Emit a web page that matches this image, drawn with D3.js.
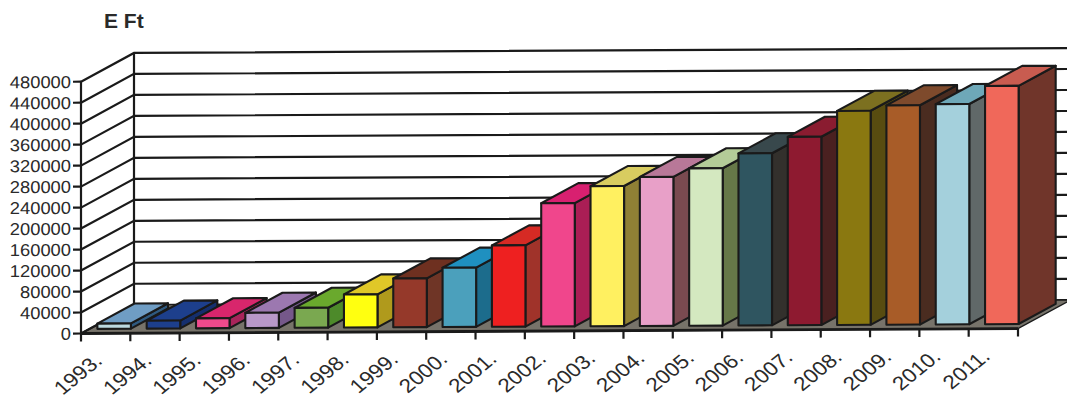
<!DOCTYPE html>
<html>
<head>
<meta charset="utf-8">
<title>E Ft</title>
<script src="https://cdnjs.cloudflare.com/ajax/libs/d3/7.8.5/d3.min.js"></script>
<style>
  html, body { margin: 0; padding: 0; background: #fff; overflow: hidden; }
  svg { display: block; }
  text { font-family: "Liberation Sans", Arial, sans-serif; fill: #2a2a2a; }
</style>
</head>
<body>
<svg id="chart" width="1067" height="400"></svg>
<script>
const years = ["1993.","1994.","1995.","1996.","1997.","1998.","1999.","2000.","2001.","2002.",
               "2003.","2004.","2005.","2006.","2007.","2008.","2009.","2010.","2011."];
const values = [10000,15000,19000,29000,38000,63000,93000,113000,155000,235000,
                267000,284000,300000,328000,359000,408000,418000,420000,454000];
const yTicks = d3.range(0, 480001, 40000);
const frontColors = ["#bcd9df","#1d3f8c","#ef4a8c","#b898c8","#7aa850","#ffff10","#95392a","#4ba0bc","#ee2020","#f0468c",
                     "#fff060","#e8a0c8","#d4e8c0","#2f5560","#8e1a30","#8a7810","#a85c28","#a4d0dc","#f0685a"];
const sideColors  = ["#2f5a80","#152f6e","#a8245a","#75588a","#4d8a2a","#b09a1c","#6f3526","#1c6c8c","#a0332a","#aa1e55",
                     "#8f8035","#7a4a50","#667848","#33302c","#4a2020","#584c10","#4a2c20","#606868","#70352a"];
const topColors   = ["#6f9dc4","#1d3f8c","#d8266c","#9c78b0","#6aa92d","#e0c828","#6e3020","#1f90c0","#d62a24","#d82070",
                     "#d8cc60","#b87898","#b4cc98","#38484c","#8a1c30","#7c7020","#7e4a2c","#6ea8b8","#c85c50"];

const originX = 81, originY = 333.5;
const depthX = 53, depthY = -28.5;
const stroke = "#1a1a1a";

const x = d3.scaleBand().domain(years).range([originX, 1018]).paddingInner(0).paddingOuter(0);
const y = d3.scaleLinear().domain([0, 480000]).range([originY, 81.7]);

const svg = d3.select("#chart");

svg.append("text").attr("x", 104).attr("y", 28)
  .attr("font-size", 21).attr("font-weight", "bold").text("E Ft");

// The plot shears very slightly upward to the right; verticals stay vertical.
const plot = svg.append("g")
  .attr("transform", `translate(${originX},${originY}) skewY(-0.3) translate(${-originX},${-originY})`);

// Project a point given by front-plane x, a value and a depth fraction (0 front .. 1 back).
const project = (px, v, z) => [px + depthX * z, y(v) + depthY * z];
const poly = pts => pts.map(p => p.join(",")).join(" ");

// Floor
plot.append("polygon")
  .attr("points", poly([project(originX, 0, 0), project(1018, 0, 0), project(1018, 0, 1), project(originX, 0, 1)]))
  .attr("fill", "#77736a").attr("stroke", stroke).attr("stroke-width", 1.5);

// Side wall and back wall grid lines
plot.append("g").selectAll("polyline").data(yTicks.slice(1)).join("polyline")
  .attr("points", d => poly([project(originX, d, 0), project(originX, d, 1), project(1030, d, 1)]))
  .attr("fill", "none").attr("stroke", stroke).attr("stroke-width", 2.2);

plot.append("line")
  .attr("x1", originX + depthX).attr("x2", originX + depthX)
  .attr("y1", y(0) + depthY).attr("y2", y(480000) + depthY)
  .attr("stroke", stroke).attr("stroke-width", 2.2);

plot.append("line")
  .attr("x1", originX).attr("y1", y(0)).attr("x2", originX + depthX).attr("y2", y(0) + depthY)
  .attr("stroke", stroke).attr("stroke-width", 2.2);

// Bars, drawn left to right so each one covers its left neighbour's side
const zFront = 0.16, zBack = 0.86;
const barInset = 0.16;
const bars = plot.append("g").selectAll("g").data(years).join("g");
bars.each(function (year, i) {
  const g = d3.select(this);
  const l = x(year) + x.bandwidth() * barInset;
  const r = x(year) + x.bandwidth() * (1 - barInset);
  const v = values[i];
  const faces = [
    [[project(r, 0, zFront), project(r, 0, zBack), project(r, v, zBack), project(r, v, zFront)], sideColors[i]],
    [[project(l, v, zFront), project(r, v, zFront), project(r, v, zBack), project(l, v, zBack)], topColors[i]],
    [[project(l, 0, zFront), project(r, 0, zFront), project(r, v, zFront), project(l, v, zFront)], frontColors[i]]
  ];
  g.selectAll("polygon").data(faces).join("polygon")
    .attr("points", d => poly(d[0]))
    .attr("fill", d => d[1])
    .attr("stroke", stroke).attr("stroke-width", 2.1).attr("stroke-linejoin", "round");
});

// Value axis
plot.append("line").attr("x1", originX).attr("x2", originX)
  .attr("y1", y(0)).attr("y2", y(480000)).attr("stroke", stroke).attr("stroke-width", 2.2);
const yAxis = plot.append("g").selectAll("g").data(yTicks).join("g")
  .attr("transform", d => `translate(${originX},${y(d)})`);
yAxis.append("line").attr("x1", -8).attr("x2", 0).attr("stroke", stroke).attr("stroke-width", 2.2);
yAxis.append("text").attr("x", -10).attr("dy", "0.36em").attr("text-anchor", "end")
  .attr("font-size", 17)
  .attr("textLength", d => String(d).length * 10.2).attr("lengthAdjust", "spacingAndGlyphs")
  .text(d => d);

// Category axis
plot.append("line").attr("x1", originX).attr("x2", 1018)
  .attr("y1", y(0)).attr("y2", y(0)).attr("stroke", stroke).attr("stroke-width", 2.8);
const edges = [x(years[0])].concat(years.map(d => x(d) + x.bandwidth()));
plot.append("g").selectAll("line").data(edges).join("line")
  .attr("x1", d => d).attr("x2", d => d)
  .attr("y1", y(0)).attr("y2", y(0) + 8)
  .attr("stroke", stroke).attr("stroke-width", 2.2);
plot.append("g").selectAll("text").data(years).join("text")
  .attr("transform", d => `translate(${x(d) + x.bandwidth() * 0.5 - 2},${y(0) + 29}) scale(1.15,1) rotate(-43)`)
  .attr("text-anchor", "end").attr("font-size", 19.5)
  .text(d => d);
</script>
</body>
</html>
